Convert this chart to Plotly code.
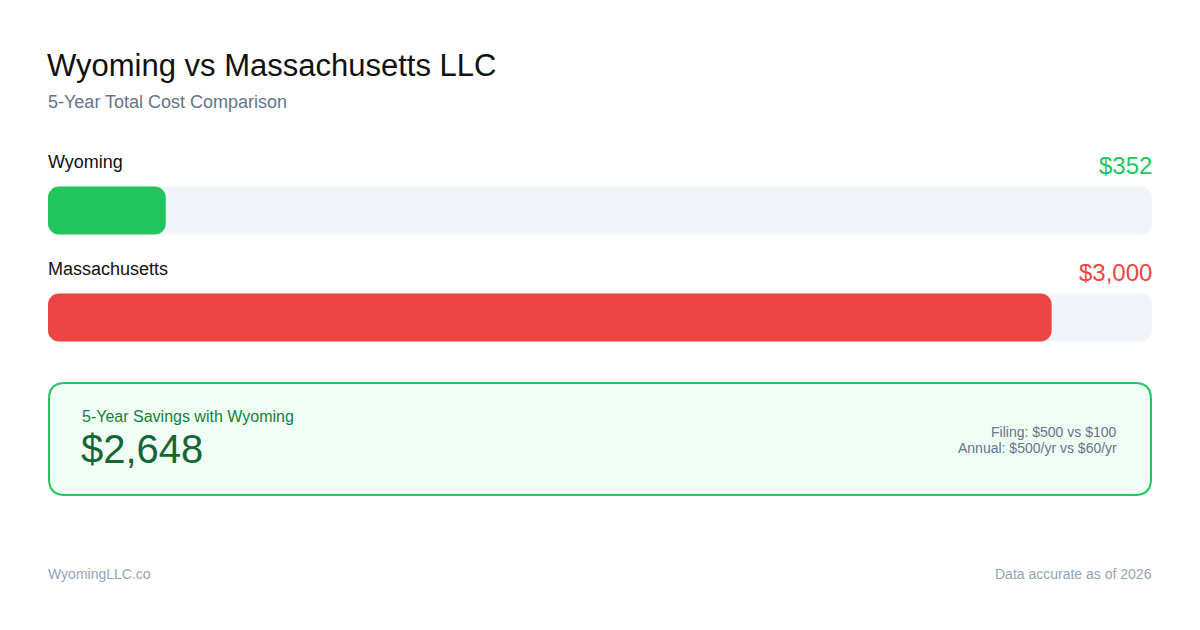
import plotly.graph_objects as go

# chart values
states = ["Wyoming", "Massachusetts"]
totals = [352, 3000]
bar_colors = ["#22c55e", "#ef4444"]
filing_fees = {"Wyoming": 100, "Massachusetts": 500}
annual_fees = {"Wyoming": 60, "Massachusetts": 500}
source_text = "WyomingLLC.co"
as_of_text = "Data accurate as of 2026"

savings = totals[1] - totals[0]
x_max = max(totals) * 1.1  # bar scale leaves ~10% headroom

W, H = 1200, 630
L, R = 48, 48


def px(x):  # pixel x -> paper x
    return (x - L) / (W - L - R)


def py(y):  # pixel y -> paper y (margins t=b=0)
    return 1 - y / H


def rounded_rect(x0, y0, x1, y1, r):
    # rounded rect path in paper coords, built from pixel corners
    pts = [
        f"M {px(x0 + r)},{py(y0)}",
        f"L {px(x1 - r)},{py(y0)}",
        f"Q {px(x1)},{py(y0)} {px(x1)},{py(y0 + r)}",
        f"L {px(x1)},{py(y1 - r)}",
        f"Q {px(x1)},{py(y1)} {px(x1 - r)},{py(y1)}",
        f"L {px(x0 + r)},{py(y1)}",
        f"Q {px(x0)},{py(y1)} {px(x0)},{py(y1 - r)}",
        f"L {px(x0)},{py(y0 + r)}",
        f"Q {px(x0)},{py(y0)} {px(x0 + r)},{py(y0)}",
        "Z",
    ]
    return " ".join(pts)


FONT = "Liberation Sans, Arial, Helvetica, sans-serif"

fig = go.Figure()

# grey track behind each bar, then the value bars
fig.add_trace(go.Bar(y=states, x=[x_max] * len(states), base=[0] * len(states),
                     orientation="h", marker=dict(color="#f1f5f9", line=dict(width=0)),
                     hoverinfo="skip", showlegend=False))
fig.add_trace(go.Bar(y=states, x=totals, base=[0] * len(states),
                     orientation="h", marker=dict(color=bar_colors, line=dict(width=0)),
                     hoverinfo="skip", showlegend=False))

annotations = []
for s, v, c in zip(states, totals, bar_colors):
    annotations.append(dict(x=0, xref="paper", y=s, yref="y", yshift=49, xshift=-2,
                            text=s, showarrow=False, xanchor="left", yanchor="middle",
                            font=dict(family=FONT, size=18, color="#111111")))
    annotations.append(dict(x=1, xref="paper", y=s, yref="y", yshift=45, xshift=2,
                            text=f"${v:,}", showarrow=False, xanchor="right", yanchor="middle",
                            font=dict(family=FONT, size=24, color=c)))

# header
annotations.append(dict(x=px(45), y=py(66), xref="paper", yref="paper",
                        text="Wyoming vs Massachusetts LLC", showarrow=False,
                        xanchor="left", yanchor="middle",
                        font=dict(family=FONT, size=31, color="#111111")))
annotations.append(dict(x=px(46), y=py(102), xref="paper", yref="paper",
                        text="5-Year Total Cost Comparison", showarrow=False,
                        xanchor="left", yanchor="middle",
                        font=dict(family=FONT, size=18, color="#64748b")))

# savings box text
annotations.append(dict(x=px(80), y=py(416), xref="paper", yref="paper",
                        text="5-Year Savings with Wyoming", showarrow=False,
                        xanchor="left", yanchor="middle",
                        font=dict(family=FONT, size=16, color="#15803d")))
annotations.append(dict(x=px(79), y=py(449), xref="paper", yref="paper",
                        text=f"${savings:,}", showarrow=False,
                        xanchor="left", yanchor="middle",
                        font=dict(family=FONT, size=40, color="#166534")))
detail_lines = [
    f"Filing: ${filing_fees['Massachusetts']} vs ${filing_fees['Wyoming']}",
    f"Annual: ${annual_fees['Massachusetts']}/yr vs ${annual_fees['Wyoming']}/yr",
]
for line, y in zip(detail_lines, [432, 448]):
    annotations.append(dict(x=px(1119), y=py(y), xref="paper", yref="paper",
                            text=line, showarrow=False,
                            xanchor="right", yanchor="middle",
                            font=dict(family=FONT, size=14, color="#64748b")))

# footer
annotations.append(dict(x=0, y=py(574), xref="paper", yref="paper", xshift=-2,
                        text=source_text, showarrow=False,
                        xanchor="left", yanchor="middle",
                        font=dict(family=FONT, size=14, color="#94a3b8")))
annotations.append(dict(x=1, y=py(574), xref="paper", yref="paper", xshift=2,
                        text=as_of_text, showarrow=False,
                        xanchor="right", yanchor="middle",
                        font=dict(family=FONT, size=14, color="#94a3b8")))

fig.update_layout(
    width=W, height=H,
    margin=dict(l=L, r=R, t=0, b=0),
    paper_bgcolor="white", plot_bgcolor="white",
    barmode="overlay", bargap=0.551, barcornerradius=11,
    xaxis=dict(range=[0, x_max], visible=False, fixedrange=True),
    yaxis=dict(range=[1.5, -0.5], visible=False, fixedrange=True,
               domain=[py(371), py(157)]),
    shapes=[dict(type="path", xref="paper", yref="paper",
                 path=rounded_rect(49, 383, 1151, 495, 16),
                 fillcolor="#f0fdf4", line=dict(color="#22c55e", width=2),
                 layer="below")],
    annotations=annotations,
    showlegend=False,
)

# drop the default page margin so the figure sits at the window's corner
fig.write_html("out.html", config={"displayModeBar": False},
               post_script="document.body.style.margin='0';")
